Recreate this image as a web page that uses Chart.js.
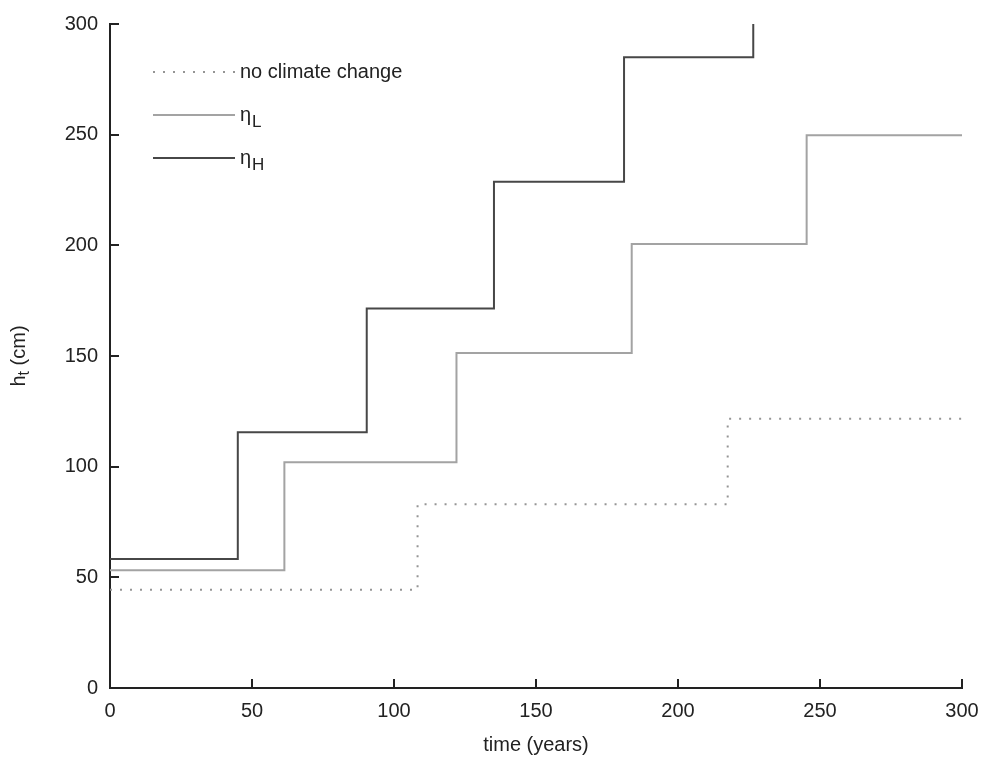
<!DOCTYPE html>
<html>
<head>
<meta charset="utf-8">
<title>h_t over time</title>
<script src="https://cdn.jsdelivr.net/npm/chart.js@4.4.1/dist/chart.umd.min.js"></script>
<style>
  body { margin: 0; background: #fff; }
  canvas { display: block; }
</style>
</head>
<body>
<canvas id="stepChart" width="990" height="761"></canvas>
<script>
// step times (years) and heights (cm)
const noChangeYears = [0, 108.3, 217.5, 300];
const noChangeHeights = [44.4, 83, 121.6, 121.6];

const etaLYears = [0, 61.4, 122, 183.7, 245.3, 300];
const etaLHeights = [53.2, 102, 151.4, 200.6, 249.7, 249.7];

const etaHYears = [0, 45, 90.4, 135.2, 181, 226.5];
const etaHHeights = [58.3, 115.5, 171.5, 228.7, 285, 300];

const seriesNames = ['no climate change', '\u03b7', '\u03b7'];
const seriesSubs = ['', 'L', 'H'];

const xTicks = [0, 50, 100, 150, 200, 250, 300];
const yTicks = [0, 50, 100, 150, 200, 250, 300];

const FONT = '"Liberation Sans", Arial, sans-serif';
const FSIZE = 20;
const INK = '#222';

function toPoints(xs, ys) {
    return xs.map((x, i) => ({ x: x, y: ys[i] }));
}

// draws the ticks pointing into the plot, like the original
const innerTicks = {
    id: 'innerTicks',
    afterDraw(chart) {
        const ctx = chart.ctx;
        const area = chart.chartArea;
        const xs = chart.scales.x, ys = chart.scales.y;
        ctx.save();
        ctx.strokeStyle = INK;
        ctx.lineWidth = 2;
        ctx.beginPath();
        xTicks.forEach(v => {
            const px = Math.round(xs.getPixelForValue(v));
            ctx.moveTo(px, area.bottom);
            ctx.lineTo(px, area.bottom - 9);
        });
        yTicks.forEach(v => {
            const py = Math.round(ys.getPixelForValue(v));
            ctx.moveTo(area.left, py);
            ctx.lineTo(area.left + 9, py);
        });
        ctx.stroke();
        ctx.restore();
    }
};

// legend with subscripts + y title with subscript
const annotate = {
    id: 'annotate',
    afterDraw(chart) {
        const ctx = chart.ctx;
        const area = chart.chartArea;
        ctx.save();
        ctx.textBaseline = 'middle';
        ctx.fillStyle = INK;

        chart.data.datasets.forEach((ds, i) => {
            const y = 72 + i * 43;
            ctx.save();
            ctx.strokeStyle = ds.borderColor;
            ctx.lineWidth = ds.borderWidth;
            ctx.setLineDash(ds.borderDash || []);
            ctx.beginPath();
            ctx.moveTo(153, y);
            ctx.lineTo(235, y);
            ctx.stroke();
            ctx.restore();

            ctx.textAlign = 'left';
            ctx.font = FSIZE + 'px ' + FONT;
            ctx.fillText(seriesNames[i], 240, y);
            if (seriesSubs[i]) {
                const w = ctx.measureText(seriesNames[i]).width;
                ctx.font = '17px ' + FONT;
                ctx.fillText(seriesSubs[i], 240 + w + 1, y + 7);
            }
        });

        // y axis title: h_t (cm)
        ctx.translate(19, (area.top + area.bottom) / 2);
        ctx.rotate(-Math.PI / 2);
        ctx.font = FSIZE + 'px ' + FONT;
        const wH = ctx.measureText('h').width;
        const wRest = ctx.measureText(' (cm)').width;
        ctx.font = '16px ' + FONT;
        const wT = ctx.measureText('t').width;
        let x0 = -(wH + wT + wRest) / 2;
        ctx.textAlign = 'left';
        ctx.font = FSIZE + 'px ' + FONT;
        ctx.fillText('h', x0, 0);
        ctx.font = '16px ' + FONT;
        ctx.fillText('t', x0 + wH, 6);
        ctx.font = FSIZE + 'px ' + FONT;
        ctx.fillText(' (cm)', x0 + wH + wT, 0);
        ctx.restore();
    }
};

function initStepChart() {
    const ctx = document.getElementById('stepChart').getContext('2d');
    const stepChart = new Chart(ctx, {
        type: 'line',
        data: {
            datasets: [{
                label: seriesNames[0],
                data: toPoints(noChangeYears, noChangeHeights),
                borderColor: '#959595',
                borderWidth: 2,
                borderDash: [2, 8],
                stepped: true,
                pointRadius: 0,
                fill: false
            }, {
                label: seriesNames[1] + seriesSubs[1],
                data: toPoints(etaLYears, etaLHeights),
                borderColor: '#a3a3a3',
                borderWidth: 2,
                stepped: true,
                pointRadius: 0,
                fill: false
            }, {
                label: seriesNames[2] + seriesSubs[2],
                data: toPoints(etaHYears, etaHHeights),
                borderColor: '#474747',
                borderWidth: 2,
                stepped: true,
                pointRadius: 0,
                fill: false
            }]
        },
        options: {
            responsive: false,
            animation: false,
            layout: { padding: { left: 0, top: 18, right: 28, bottom: 0 } },
            plugins: {
                legend: { display: false },
                tooltip: { enabled: false }
            },
            scales: {
                x: {
                    type: 'linear',
                    min: 0,
                    max: 300,
                    afterFit: s => { s.height = 73; },
                    afterBuildTicks: s => { s.ticks = xTicks.map(v => ({ value: v })); },
                    grid: { display: false, drawTicks: false },
                    border: { display: true, color: INK, width: 2 },
                    ticks: { color: INK, padding: 11, maxRotation: 0, font: { family: FONT, size: FSIZE } },
                    title: {
                        display: true,
                        text: 'time (years)',
                        color: INK,
                        font: { family: FONT, size: FSIZE },
                        padding: { top: 0, bottom: 4 }
                    }
                },
                y: {
                    type: 'linear',
                    min: 0,
                    max: 300,
                    afterFit: s => { s.width = 110; },
                    afterBuildTicks: s => { s.ticks = yTicks.map(v => ({ value: v })); },
                    grid: { display: false, drawTicks: false },
                    border: { display: true, color: INK, width: 2 },
                    ticks: { color: INK, padding: 12, font: { family: FONT, size: FSIZE } }
                }
            }
        },
        plugins: [innerTicks, annotate]
    });
}

window.onload = function() {
    initStepChart();
};
</script>
</body>
</html>
